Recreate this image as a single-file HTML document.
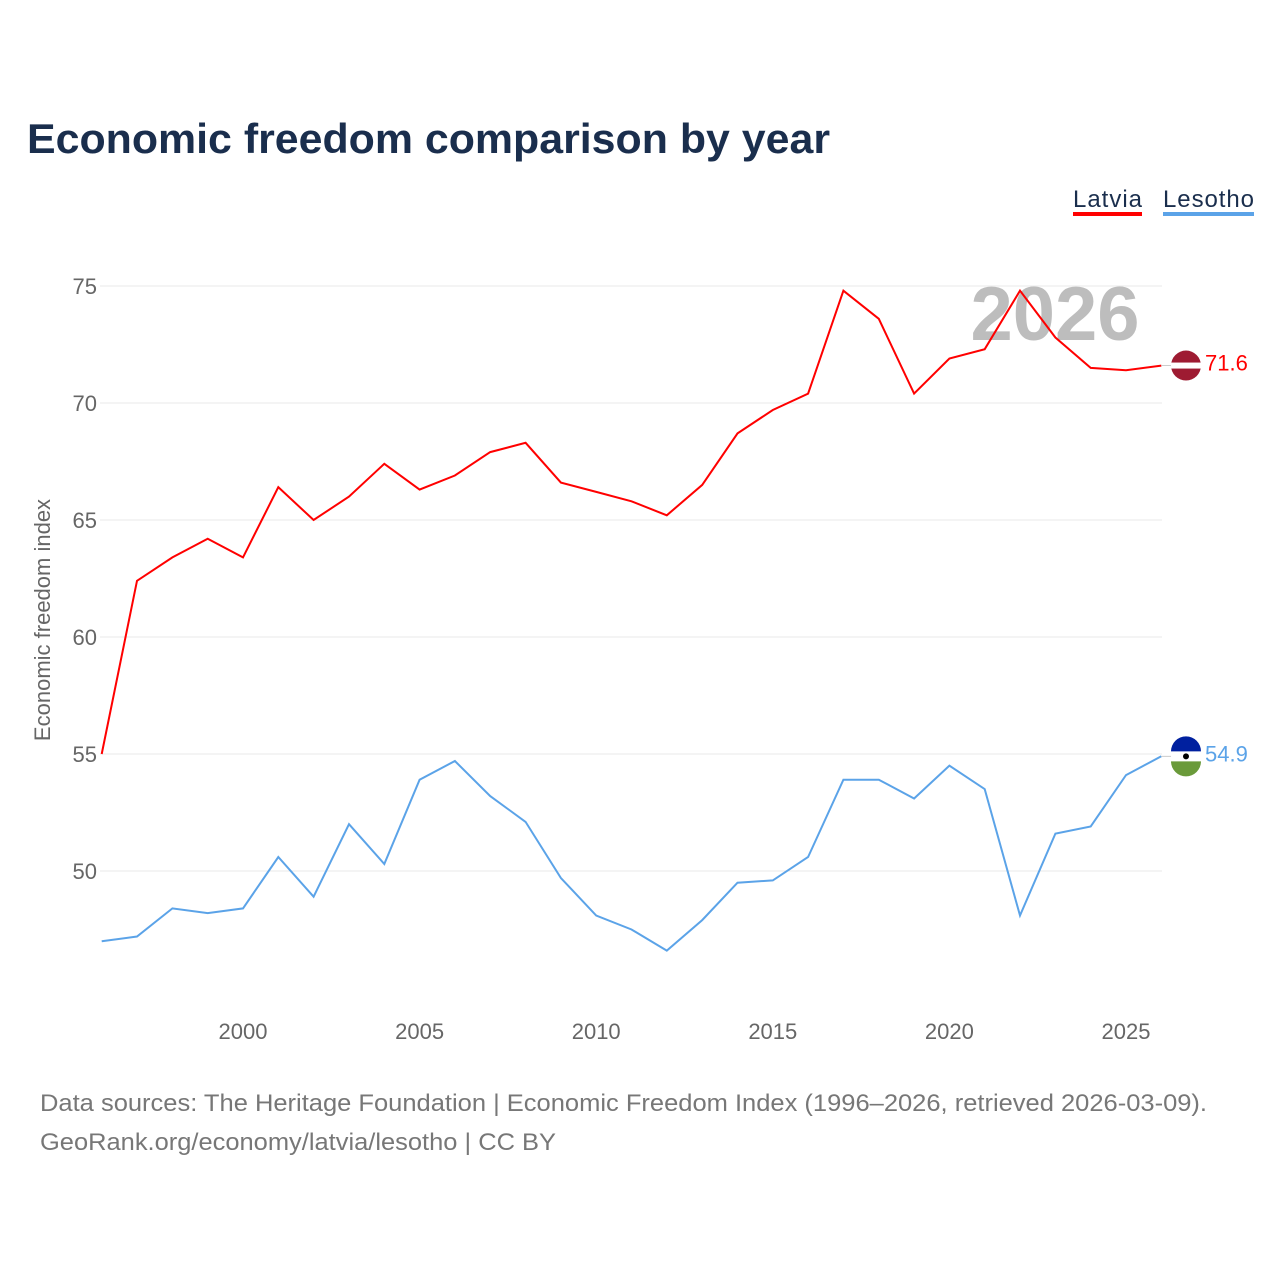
<!DOCTYPE html>
<html><head><meta charset="utf-8">
<style>
body{margin:0;background:#fff;font-family:"Liberation Sans",sans-serif;}
#wrap{position:relative;width:1280px;height:1280px;overflow:hidden;}
</style></head>
<body>
<div id="wrap">
<svg id="chart" width="1280" height="1280" xmlns="http://www.w3.org/2000/svg">
<text x="27" y="153" font-size="42" font-weight="bold" fill="#1a2e4d" textLength="803" lengthAdjust="spacingAndGlyphs">Economic freedom comparison by year</text>
<g>
<text x="1073" y="207" font-size="24" fill="#1a2e4d" textLength="69">Latvia</text>
<rect x="1073" y="212" width="69" height="4" fill="#ff0000"/>
<text x="1163" y="207" font-size="24" fill="#1a2e4d" textLength="91">Lesotho</text>
<rect x="1163" y="212" width="91" height="4" fill="#5ba3e8"/>
</g>
<text x="1055" y="340" font-size="76" font-weight="bold" fill="#bdbdbd" text-anchor="middle">2026</text>
<g id="grid"></g>
<g id="xaxis"></g>
<text transform="translate(50,620) rotate(-90)" font-size="22" fill="#666" text-anchor="middle">Economic freedom index</text>
<g id="series"></g>
<text x="40" y="1111" font-size="24" fill="#777" textLength="1167" lengthAdjust="spacingAndGlyphs">Data sources: The Heritage Foundation | Economic Freedom Index (1996–2026, retrieved 2026-03-09).</text>
<text x="40" y="1150" font-size="24" fill="#777" textLength="516" lengthAdjust="spacingAndGlyphs">GeoRank.org/economy/latvia/lesotho | CC BY</text>
</svg>
</div>
<script>
const years=[1996,1997,1998,1999,2000,2001,2002,2003,2004,2005,2006,2007,2008,2009,2010,2011,2012,2013,2014,2015,2016,2017,2018,2019,2020,2021,2022,2023,2024,2025,2026];
const latvia=[55.0,62.4,63.4,64.2,63.4,66.4,65.0,66.0,67.4,66.3,66.9,67.9,68.3,66.6,66.2,65.8,65.2,66.5,68.7,69.7,70.4,74.8,73.6,70.4,71.9,72.3,74.8,72.8,71.5,71.4,71.6];
const lesotho=[47.0,47.2,48.4,48.2,48.4,50.6,48.9,52.0,50.3,53.9,54.7,53.2,52.1,49.7,48.1,47.5,46.6,47.9,49.5,49.6,50.6,53.9,53.9,53.1,54.5,53.5,48.1,51.6,51.9,54.1,54.9];
const yTicks=[50,55,60,65,70,75];
const xTicks=[2000,2005,2010,2015,2020,2025];
const NS="http://www.w3.org/2000/svg";
const x=v=>243+(v-2000)*35.32;
const y=v=>871-(v-50)*23.4;
function mk(t,a,p){const e=document.createElementNS(NS,t);for(const k in a)e.setAttribute(k,a[k]);p.appendChild(e);return e;}
const grid=document.getElementById('grid');
yTicks.forEach(t=>{
 const l=mk('line',{x1:100,x2:1162,y1:y(t),y2:y(t),stroke:'#e8e8e8','stroke-width':1},grid);
 
 
 const tx=mk('text',{x:97,y:y(t)+8,'font-size':22,fill:'#666','text-anchor':'end'},grid);
 tx.textContent=t;
 
 
});
const xa=document.getElementById('xaxis');
xTicks.forEach(t=>{
 const tx=mk('text',{x:x(t),y:1039,'font-size':22,fill:'#666','text-anchor':'middle'},xa);
 tx.textContent=t;
 
 
});
const sg=document.getElementById('series');
function draw(data,color,name,flag){
 const d=data.map((v,i)=>(i?'L':'M')+x(years[i]).toFixed(1)+','+y(v).toFixed(1)).join('');
 const p=mk('path',{d:d,fill:'none',stroke:color,'stroke-width':2},sg);
 
 
 const lv=data[data.length-1],cx=1186,cy=y(lv);
 mk('line',{x1:x(years[years.length-1]),x2:cx,y1:cy,y2:cy,stroke:'#ccc'},sg);
 const g=mk('g',{},sg);
 
 
 flag(g,cx,cy);
 const t=mk('text',{x:1205,y:cy+5,'font-size':22,fill:color},sg);
 t.textContent=lv.toFixed(1);
 
 
}
draw(latvia,'#ff0000','latvia',(g,cx,cy)=>{
 mk('circle',{cx:cx,cy:cy,r:15,fill:'#9e1b32'},g);
 mk('rect',{x:cx-15,y:cy-3,width:30,height:6,fill:'#fff'},g);
});
draw(lesotho,'#5ba3e8','lesotho',(g,cx,cy)=>{
 mk('circle',{cx:cx,cy:cy,r:15,fill:'#fff'},g);
 mk('path',{d:`M${cx-15},${cy-5}A15,15 0 0 1 ${cx+15},${cy-5}Z`,fill:'#00209f'},g);
 mk('path',{d:`M${cx-15},${cy+5}A15,15 0 0 0 ${cx+15},${cy+5}Z`,fill:'#6a9a3a'},g);
 mk('circle',{cx:cx,cy:cy,r:3,fill:'#000'},g);
});
</script>
</body></html>
